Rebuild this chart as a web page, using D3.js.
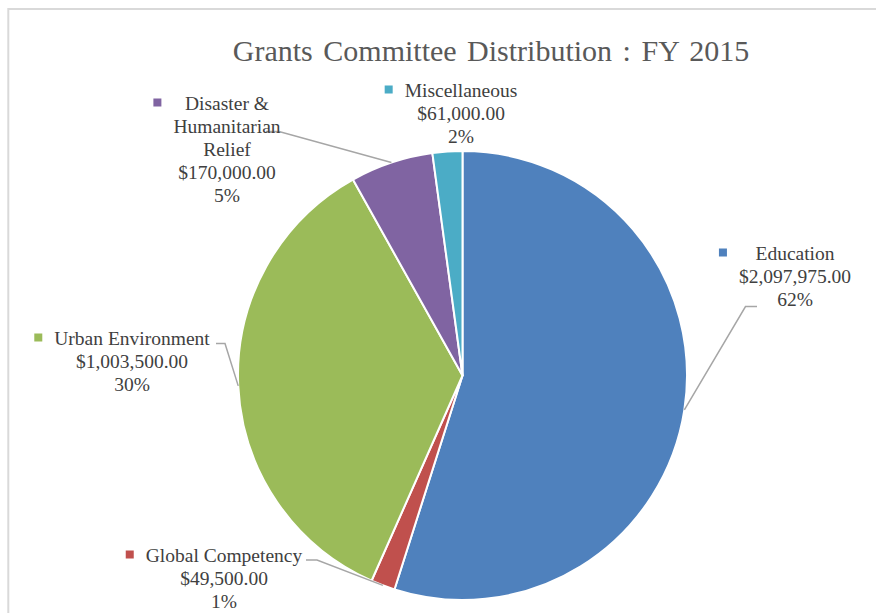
<!DOCTYPE html>
<html><head><meta charset="utf-8">
<script src="https://cdn.jsdelivr.net/npm/d3@7"></script>
<style>body{margin:0;background:#fff;overflow:hidden}</style>
</head><body><svg id="chart" width="876" height="613"></svg>
<script>
// ---- data ----
const title = "Grants Committee Distribution : FY 2015";
const categories = ["Education", "Global Competency", "Urban Environment", "Disaster & Humanitarian Relief", "Miscellaneous"];
const nameLines = [["Education"], ["Global Competency"], ["Urban Environment"], ["Disaster &", "Humanitarian", "Relief"], ["Miscellaneous"]];
const amounts = [2097975, 49500, 1003500, 170000, 61000];          // values shown in labels
const percentLabels = ["62%", "1%", "30%", "5%", "2%"];             // percentages shown in labels
const sliceValues = [1563000, 49500, 1003500, 170000, 61000];       // slice sizes as drawn in the picture
const colors = ["#4F81BD", "#C0504D", "#9BBB59", "#8064A2", "#4BACC6"];

// ---- layout ----
const W = 876, H = 613;
const cx = 462.5, cy = 375.5, R = 224.5;
const labelLayout = [
  {x: 795, y: 260, lead: [[757, 306.5], [745.5, 306.5]]},
  {x: 224, y: 562, lead: [[306, 560], [317, 560]]},
  {x: 132, y: 345, lead: [[216, 343.5], [225, 343.5]]},
  {x: 227, y: 110, lead: [[266, 131.5], [279, 131.5]]},
  {x: 461, y: 97, lead: null}
];
const lineH = 23;

const svg = d3.select("#chart");
svg.append("rect").attr("x", 0).attr("y", 0).attr("width", W).attr("height", H).attr("fill", "#fff");
svg.append("rect").attr("x", 8.3).attr("y", 9).attr("width", W + 20).attr("height", H + 20)
  .attr("fill", "none").attr("stroke", "#d9d9d9").attr("stroke-width", 2);

svg.append("text").attr("x", 491).attr("y", 61).attr("text-anchor", "middle")
  .attr("font-family", "'Liberation Serif', 'Times New Roman', serif").attr("font-size", 30)
  .attr("fill", "#595959").attr("word-spacing", 3).text(title);

const pie = d3.pie().sort(null).value(d => d)(sliceValues);
const arc = d3.arc().innerRadius(0).outerRadius(R);
const g = svg.append("g").attr("transform", `translate(${cx},${cy})`);
g.selectAll("path").data(pie).join("path")
  .attr("d", arc).attr("fill", (d, i) => colors[i])
  .attr("stroke", "#fff").attr("stroke-width", 2).attr("stroke-linejoin", "round");

const fmt = d3.format("$,.2f");
// leader lines
pie.forEach((d, i) => {
  const L = labelLayout[i];
  if (!L.lead) return;
  const a = (d.startAngle + d.endAngle) / 2;
  const end = [cx + R * Math.sin(a), cy - R * Math.cos(a)];
  const pts = [...L.lead, end];
  svg.append("path").attr("d", d3.line()(pts)).attr("fill", "none")
    .attr("stroke", "#a6a6a6").attr("stroke-width", 1.5);
});
// labels
categories.forEach((c, i) => {
  const L = labelLayout[i];
  const lines = [...nameLines[i], fmt(amounts[i]), percentLabels[i]];
  const t = svg.append("text").attr("font-family", "'Liberation Serif', 'Times New Roman', serif")
    .attr("font-size", 19.5).attr("fill", "#404040").attr("text-anchor", "middle");
  lines.forEach((s, k) => t.append("tspan").attr("x", L.x).attr("y", L.y + k * lineH).text(s));
  let maxW = 0;
  t.selectAll("tspan").each(function () { maxW = Math.max(maxW, this.getComputedTextLength()); });
  svg.append("rect").attr("x", L.x - maxW / 2 - 12 - 8).attr("y", L.y - 11.5)
    .attr("width", 8).attr("height", 8).attr("fill", colors[i]);
});
</script></body></html>
